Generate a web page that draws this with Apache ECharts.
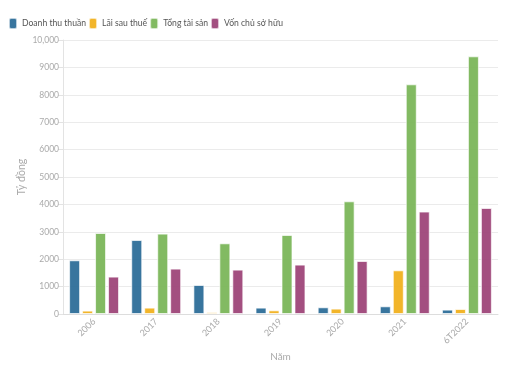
<!DOCTYPE html>
<html><head><meta charset="utf-8">
<script src="https://cdn.jsdelivr.net/npm/echarts@6/dist/echarts.min.js"></script>
<style>html,body{margin:0;padding:0;background:#fff}#c{width:505px;height:366px}</style>
</head><body><div id="c"></div>
<script>
const categories = ['2006','2017','2018','2019','2020','2021','6T2022'];
const doanhThu = [1960, 2700, 1058, 233, 245, 281, 160];
const laiSauThue = [124, 233, 62, 135, 197, 1595, 182];
const tongTaiSan = [2956, 2934, 2580, 2883, 4113, 8383, 9405];
const vonChuSoHuu = [1365, 1657, 1620, 1803, 1934, 3737, 3869];
const seriesNames = ['Doanh thu thuần','Lãi sau thuế','Tổng tài sản','Vốn chủ sở hữu'];
const colors = ['#2d6e99','#f1b11f','#7bb65a','#9e4679'];
const FONT = 'Lato';
const chart = echarts.init(document.getElementById('c'));
const mk = (name, data, i) => ({
  name, type: 'bar', data,
  barWidth: 11, barGap: '18%',
  itemStyle: { color: colors[i], borderColor: 'rgba(255,255,255,0.7)', borderWidth: 1, opacity: 0.95 }
});
chart.setOption({
  animation: false,
  textStyle: { fontFamily: FONT },
  color: colors,
  legend: {
    left: 3, top: 12, itemWidth: 8, itemHeight: 11, itemGap: 2,
    icon: 'roundRect',
    textStyle: { fontSize: 8.6, color: '#555', fontFamily: FONT },
    data: seriesNames
  },
  grid: { left: 63, right: 7, top: 40, bottom: 52, containLabel: false, outerBoundsMode: 'none' },
  xAxis: {
    type: 'category', data: categories,
    name: 'Năm', nameLocation: 'middle', nameGap: 38, nameMoveOverlap: false,
    nameTextStyle: { color: '#aaa', fontSize: 10, fontFamily: FONT },
    axisLine: { lineStyle: { color: '#ddd' } },
    axisTick: { alignWithLabel: true, length: 5, lineStyle: { color: '#ddd' } },
    axisLabel: { rotate: 45, color: '#aaa', fontSize: 9, margin: 6, fontFamily: FONT }
  },
  yAxis: {
    type: 'value', min: 0, max: 10000, interval: 1000,
    name: 'Tỷ đồng', nameLocation: 'middle', nameGap: 36, nameMoveOverlap: false,
    nameTextStyle: { color: '#aaa', fontSize: 10.5, fontFamily: FONT },
    axisLine: { show: true, lineStyle: { color: '#e3e3e3' } },
    axisTick: { show: true, length: 5, lineStyle: { color: '#e3e3e3' } },
    axisLabel: { color: '#aaa', fontSize: 8.5, margin: 4, fontFamily: FONT,
      formatter: v => v >= 10000 ? v.toLocaleString('en-US') : String(v) },
    splitLine: { lineStyle: { color: '#ebebeb' } }
  },
  series: [mk(seriesNames[0], doanhThu, 0), mk(seriesNames[1], laiSauThue, 1), mk(seriesNames[2], tongTaiSan, 2), mk(seriesNames[3], vonChuSoHuu, 3)]
});
</script></body></html>
